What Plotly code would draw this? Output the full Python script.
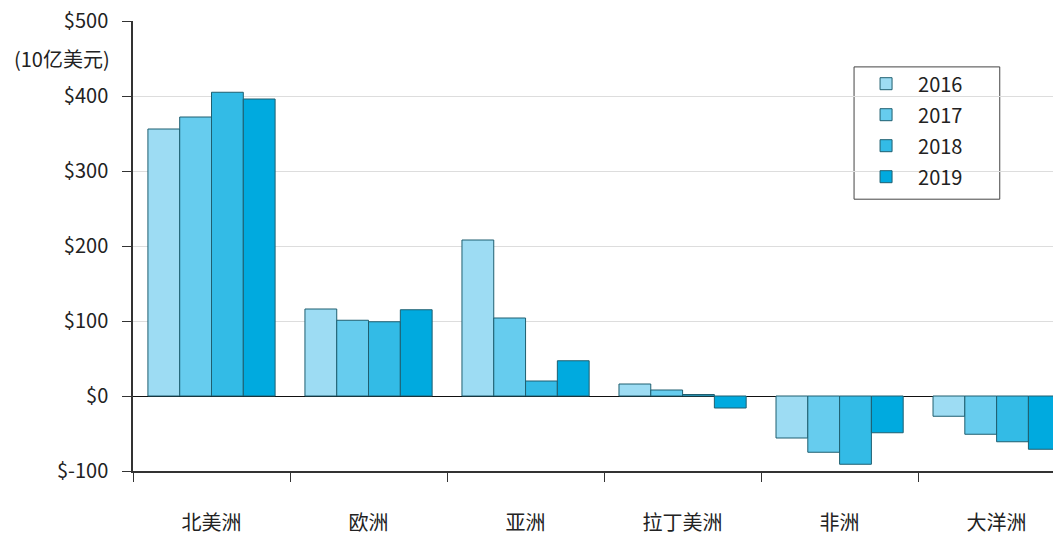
import plotly.graph_objects as go

regions = ["北美洲", "欧洲", "亚洲", "拉丁美洲", "非洲", "大洋洲"]
years = ["2016", "2017", "2018", "2019"]
values = {
    "2016": [356, 116, 208, 16, -56, -27],
    "2017": [372, 101, 104, 8, -75, -51],
    "2018": [405, 99, 20, 2, -91, -61],
    "2019": [396, 115, 47, -16, -49, -71],
}
colors = {"2016": "#9DDCF3", "2017": "#66CCEE", "2018": "#33BBE6", "2019": "#00AADF"}
y_ticks = [-100, 0, 100, 200, 300, 400, 500]
y_ticktext = ["$-100", "$0", "$100", "$200", "$300", "$400", "$500"]
unit_label = "(10亿美元)"

font = "Noto Sans CJK SC"
fig = go.Figure()
for y in years:
    fig.add_trace(go.Bar(
        x=regions, y=values[y], name=y, legendgroup=y,
        marker=dict(color=colors[y], line=dict(color="#1f5f70", width=1)),
    ))

fig.update_layout(
    width=1061, height=535,
    margin=dict(l=125, r=8, t=13, b=72),
    paper_bgcolor="white", plot_bgcolor="white",
    barmode="group", bargap=0.19, bargroupgap=0,
    font=dict(family=font, size=20, color="#222"),
    showlegend=True,
    legend=dict(x=0.777, y=0.904, xanchor="left", yanchor="top",
                bgcolor="rgba(0,0,0,0)", borderwidth=0,
                font=dict(size=20), tracegroupgap=2, itemwidth=54,
                traceorder="grouped"),
    xaxis=dict(tickson="boundaries", ticks="outside", ticklen=9, tickcolor="#333",
               range=[-0.5, 5.41],
               showline=True, linecolor="#333", linewidth=1.5, automargin=False,
               ticklabelstandoff=33, showgrid=False),
    yaxis=dict(range=[-100, 500], tickvals=y_ticks, ticktext=y_ticktext,
               ticks="outside", ticklen=9, tickcolor="#333", automargin=False,
               ticklabelstandoff=10, ticklabeloverflow="allow",
               showline=True, linecolor="#333", linewidth=1.5,
               showgrid=True, gridcolor="#dddddd", gridwidth=1,
               zeroline=True, zerolinecolor="#111", zerolinewidth=1.2),
    shapes=[dict(type="rect", xref="paper", yref="paper",
                 x0=0.777, x1=0.934, y0=0.604, y1=0.898,
                 line=dict(color="#444", width=1), fillcolor="white", layer="below")],
    annotations=[dict(text=unit_label, xref="paper", yref="y", x=0, y=450,
                      xanchor="right", yanchor="middle", xshift=-21,
                      showarrow=False, font=dict(size=20, family=font, color="#222"))],
)
fig.write_html("out.html")
